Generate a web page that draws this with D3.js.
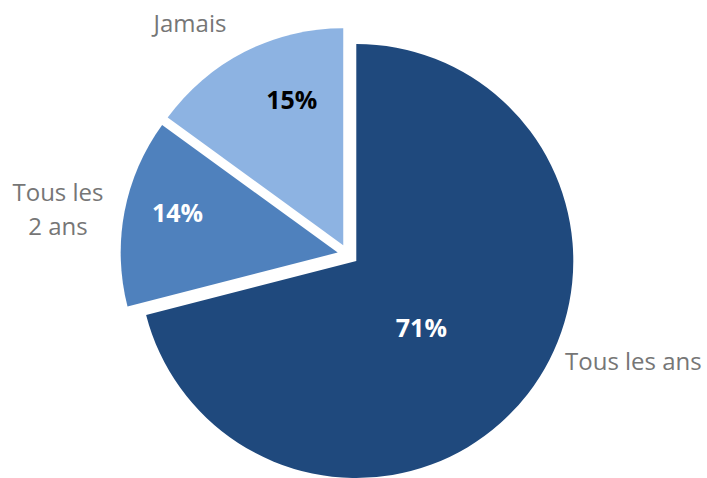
<!DOCTYPE html>
<html>
<head>
<meta charset="utf-8">
<script src="https://cdn.jsdelivr.net/npm/d3@7"></script>
<style>
  body { margin: 0; background: #fff; }
  text { font-family: "Open Sans", "Noto Sans", sans-serif; }
</style>
</head>
<body>
<div id="chart"></div>
<script>
const categories = ["Tous les ans", "Tous les 2 ans", "Jamais"];
const values = [71, 14, 15];
const colors = ["#1f497d", "#4f81bd", "#8db3e2"];

const width = 707;
const height = 478;
const radius = 217;
const explode = 10.5;
const cx = 348, cy = 254.5;

const svg = d3.select("#chart")
    .append("svg")
    .attr("width", width)
    .attr("height", height)
    .append("g")
    .attr("transform", "translate(" + cx + "," + cy + ")");

const pie = d3.pie().sort(null).value(function (d) { return d; });
const slices = pie(values);

const arcGenerator = d3.arc().innerRadius(0).outerRadius(radius);

// offset of each slice along its bisector
function shift(d) {
    const a = (d.startAngle + d.endAngle) / 2;
    return [Math.sin(a) * explode, -Math.cos(a) * explode];
}

const g = svg.selectAll("g.slice")
    .data(slices)
    .enter()
    .append("g")
    .attr("class", "slice")
    .attr("transform", function (d) { return "translate(" + shift(d) + ")"; });

g.append("path")
    .attr("d", arcGenerator)
    .attr("fill", function (d, i) { return colors[i]; });

// percentage labels: fraction of the radius and small angle tweak (degrees)
const labelFrac = [0.43, 0.76, 0.71];
const labelTurn = [8, 3, 7.5];
g.append("text")
    .attr("transform", function (d, i) {
        const a = (d.startAngle + d.endAngle) / 2 + labelTurn[i] * Math.PI / 180;
        const r = radius * labelFrac[i];
        return "translate(" + (Math.sin(a) * r) + "," + (-Math.cos(a) * r) + ")";
    })
    .attr("text-anchor", "middle")
    .attr("dy", "0.36em")
    .style("font-size", "25px")
    .style("font-weight", "bold")
    .attr("fill", function (d, i) { return i === 2 ? "#000" : "#fff"; })
    .text(function (d) { return d.data + "%"; });

// category labels outside the pie
const catPos = [
    { x: 565 - cx, y: 362 - cy, anchor: "start", lines: ["Tous les ans"] },
    { x: 58 - cx, y: 210 - cy, anchor: "middle", lines: ["Tous les", "2 ans"] },
    { x: 190 - cx, y: 24 - cy, anchor: "middle", lines: ["Jamais"] }
];

catPos.forEach(function (p) {
    const t = svg.append("text")
        .attr("x", p.x)
        .attr("y", p.y)
        .attr("text-anchor", p.anchor)
        .attr("fill", "#767676")
        .style("font-size", "24px");
    p.lines.forEach(function (line, j) {
        t.append("tspan")
            .attr("x", p.x)
            .attr("dy", j === 0 ? (0.34 - (p.lines.length - 1) * 0.7) + "em" : "1.4em")
            .text(line);
    });
});
</script>
</body>
</html>
